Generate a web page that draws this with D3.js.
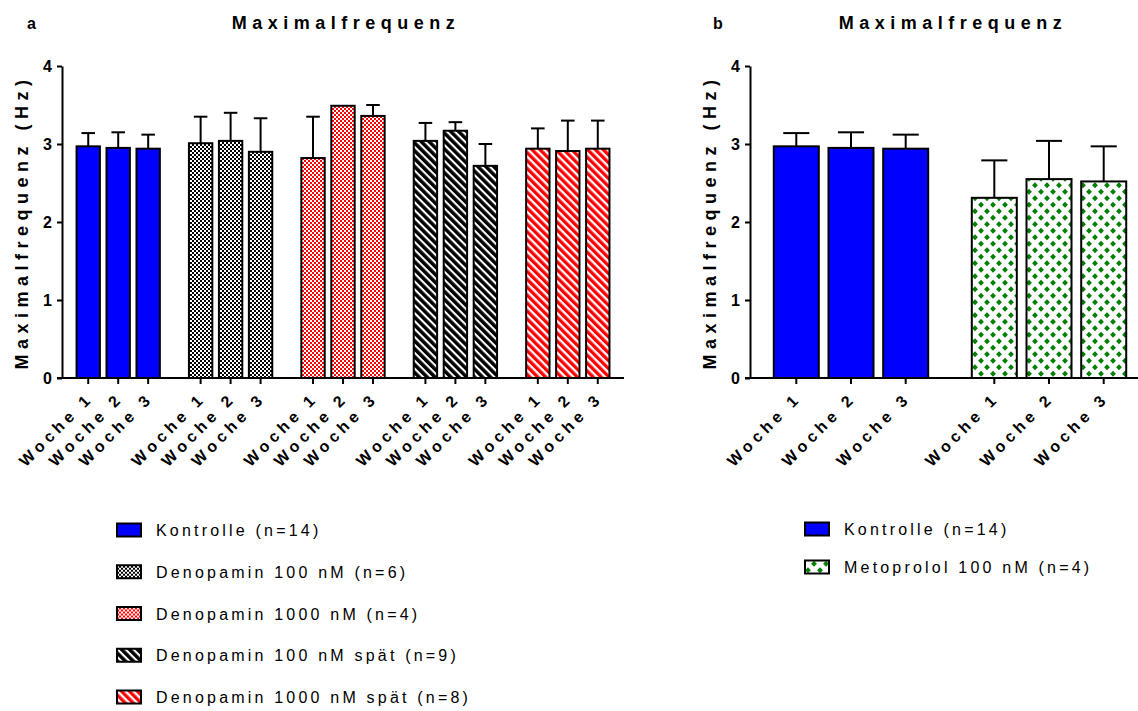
<!DOCTYPE html>
<html><head><meta charset="utf-8">
<script src="https://cdn.jsdelivr.net/npm/d3@7"></script>
<style>
body{margin:0;background:#fff;}
text{font-family:"Liberation Sans",Arial,sans-serif;}
</style></head>
<body><svg id="c" width="1138" height="711"></svg>
<script>
// ---------- data ----------
const weeks = ["Woche 1", "Woche 2", "Woche 3"];
const yTicks = [0, 1, 2, 3, 4];
const titleText = "Maximalfrequenz";
const yLabel = "Maximalfrequenz (Hz)";

const groupsA = ["kontrolle", "deno100", "deno1000", "deno100s", "deno1000s"];
const legendA = ["Kontrolle (n=14)", "Denopamin 100 nM (n=6)", "Denopamin 1000 nM (n=4)",
                 "Denopamin 100 nM spät (n=9)", "Denopamin 1000 nM spät (n=8)"];
const kontrolleMean = [2.97, 2.95, 2.94];
const kontrolleErr  = [0.17, 0.20, 0.18];
const deno100Mean   = [3.01, 3.04, 2.90];
const deno100Err    = [0.34, 0.36, 0.43];
const deno1000Mean  = [2.82, 3.49, 3.36];
const deno1000Err   = [0.53, 0.00, 0.14];
const deno100sMean  = [3.04, 3.17, 2.72];
const deno100sErr   = [0.23, 0.11, 0.28];
const deno1000sMean = [2.94, 2.91, 2.94];
const deno1000sErr  = [0.26, 0.39, 0.36];

const groupsB = ["kontrolle", "meto100"];
const legendB = ["Kontrolle (n=14)", "Metoprolol 100 nM (n=4)"];
const meto100Mean = [2.31, 2.55, 2.52];
const meto100Err  = [0.48, 0.49, 0.45];

const seriesMap = {
  kontrolle: [kontrolleMean, kontrolleErr],
  deno100: [deno100Mean, deno100Err],
  deno1000: [deno1000Mean, deno1000Err],
  deno100s: [deno100sMean, deno100sErr],
  deno1000s: [deno1000sMean, deno1000sErr],
  meto100: [meto100Mean, meto100Err]
};

// ---------- patterns ----------
const svg = d3.select("#c");
svg.append("rect").attr("width",1138).attr("height",711).attr("fill","#fff");
const defs = svg.append("defs");

function checker(id, col){
  const p = defs.append("pattern").attr("id",id).attr("patternUnits","userSpaceOnUse")
    .attr("width",4).attr("height",4);
  p.append("rect").attr("width",4).attr("height",4).attr("fill","#fff");
  p.append("rect").attr("width",2).attr("height",2).attr("fill",col);
  p.append("rect").attr("x",2).attr("y",2).attr("width",2).attr("height",2).attr("fill",col);
}
checker("pGray","#000");
checker("pPink","#ff0000");

function stripes(id, col, w){
  const p = defs.append("pattern").attr("id",id).attr("patternUnits","userSpaceOnUse")
    .attr("width",5.6).attr("height",10).attr("patternTransform","rotate(-45)");
  p.append("rect").attr("width",5.6).attr("height",10).attr("fill","#fff");
  p.append("rect").attr("width",w).attr("height",10).attr("fill",col);
}
stripes("pBlackS","#000",3.5);
stripes("pRedS","#ff0000",3.3);

(function(){
  const p = defs.append("pattern").attr("id","pGreen").attr("patternUnits","userSpaceOnUse")
    .attr("width",12).attr("height",13);
  p.append("rect").attr("width",12).attr("height",13).attr("fill","#fff");
  [[3,3.25],[9,9.75]].forEach(([x,y])=>{
    p.append("path").attr("d",`M${x},${y-2.9}L${x+2.9},${y}L${x},${y+2.9}L${x-2.9},${y}Z`).attr("fill","#008000");
  });
})();

const fills = {kontrolle:"#0000ff", deno100:"url(#pGray)", deno1000:"url(#pPink)",
  deno100s:"url(#pBlackS)", deno1000s:"url(#pRedS)", meto100:"url(#pGreen)"};

// ---------- panel drawing ----------
const y = d3.scaleLinear().domain([0,4]).range([378,66]);

function panel(opt){
  const g = svg.append("g");
  const x0 = d3.scaleBand().domain(opt.groups).range(opt.range)
    .paddingInner(opt.pIn).paddingOuter(opt.pOut);
  const x1 = d3.scaleBand().domain(weeks).range([0, x0.bandwidth()])
    .paddingInner(opt.qIn).paddingOuter(opt.qOut);
  const bw = x1.bandwidth();

  const data = [];
  opt.groups.forEach(gr => {
    const [m, e] = seriesMap[gr];
    weeks.forEach((w,i) => data.push({g:gr, w, m:m[i], e:e[i]}));
  });

  // error bars (upper only)
  const eb = g.selectAll("g.eb").data(data).join("g");
  eb.append("line")
    .attr("x1", d=>x0(d.g)+x1(d.w)+bw/2).attr("x2", d=>x0(d.g)+x1(d.w)+bw/2)
    .attr("y1", d=>y(d.m)).attr("y2", d=>y(d.m+d.e))
    .attr("stroke","#000").attr("stroke-width",2);
  eb.filter(d=>d.e>0).append("line")
    .attr("x1", d=>x0(d.g)+x1(d.w)+bw/2-bw*0.29).attr("x2", d=>x0(d.g)+x1(d.w)+bw/2+bw*0.29)
    .attr("y1", d=>y(d.m+d.e)).attr("y2", d=>y(d.m+d.e))
    .attr("stroke","#000").attr("stroke-width",2);

  // bars
  g.selectAll("rect.bar").data(data).join("rect")
    .attr("x", d=>x0(d.g)+x1(d.w)).attr("width", bw)
    .attr("y", d=>y(d.m)).attr("height", d=>y(0)-y(d.m))
    .attr("fill", d=>fills[d.g]).attr("stroke","#000").attr("stroke-width",2);

  // y axis
  const ya = g.append("g").attr("transform",`translate(${opt.range[0]},0)`)
    .call(d3.axisLeft(y).tickValues(yTicks).tickFormat(d3.format("d")).tickSize(5).tickSizeOuter(0).tickPadding(5));
  ya.select(".domain").attr("stroke-width",2);
  ya.selectAll(".tick line").attr("stroke-width",2);
  ya.selectAll(".tick text").attr("font-size",16).attr("font-weight","bold")
    .attr("font-family","'Liberation Sans',Arial,sans-serif").attr("fill","#000");

  // x axis line and ticks
  g.append("line").attr("x1",opt.range[0]-5).attr("x2",opt.range[1])
    .attr("y1",y(0)).attr("y2",y(0)).attr("stroke","#000").attr("stroke-width",2);
  g.selectAll("line.xt").data(data).join("line")
    .attr("x1", d=>x0(d.g)+x1(d.w)+bw/2).attr("x2", d=>x0(d.g)+x1(d.w)+bw/2)
    .attr("y1", y(0)).attr("y2", y(0)+6).attr("stroke","#000").attr("stroke-width",2);
  g.selectAll("text.xl").data(data).join("text")
    .attr("transform", d=>`translate(${x0(d.g)+x1(d.w)+bw/2+6},${y(0)+21}) rotate(-45)`)
    .attr("text-anchor","end").attr("font-size",16).attr("font-weight","bold")
    .attr("letter-spacing",4.5).text(d=>d.w);

  // y label
  g.append("text").attr("transform",`translate(${opt.ylx},${(y(0)+y(4))/2}) rotate(-90)`)
    .attr("text-anchor","middle").attr("font-size",18).attr("font-weight","bold")
    .attr("letter-spacing",5.5).text(yLabel);

  // title
  g.append("text").attr("x",(opt.range[0]+opt.range[1])/2+3).attr("y",29)
    .attr("text-anchor","middle").attr("font-size",18).attr("font-weight","bold")
    .attr("letter-spacing",5.5).text(titleText);
  // panel letter
  g.append("text").attr("x",opt.letterX).attr("y",29)
    .attr("font-family","'Liberation Serif','Times New Roman',serif")
    .attr("font-size",16).attr("font-weight","bold").text(opt.letter);

  // legend
  const lg = g.selectAll("g.lg").data(opt.groups).join("g")
    .attr("transform",(d,i)=>`translate(${opt.legX},${opt.legY + i*opt.legStep})`);
  lg.append("rect").attr("x",0).attr("y",-6.5).attr("width",24).attr("height",13)
    .attr("fill",d=>fills[d]).attr("stroke","#000").attr("stroke-width",2);
  lg.append("text").attr("x",39).attr("y",6).attr("font-size",16)
    .attr("letter-spacing",3.2).text((d,i)=>opt.legend[i]);
}

panel({groups:groupsA, legend:legendA, range:[62,624], pIn:0.2, pOut:0.1, qIn:0.22, qOut:0.11,
  ylx:28, letter:"a", letterX:27, legX:117, legY:530, legStep:41.75});
panel({groups:groupsB, legend:legendB, range:[750,1150], pIn:0.16, pOut:0.09, qIn:0.177, qOut:0.109,
  ylx:716, letter:"b", letterX:713, legX:805, legY:529, legStep:38});
</script></body></html>
